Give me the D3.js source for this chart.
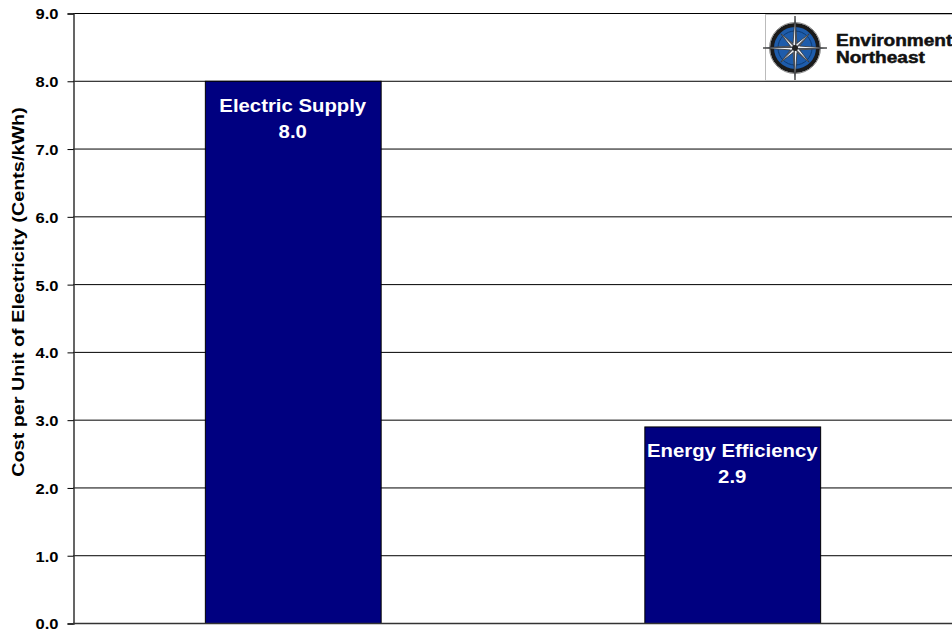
<!DOCTYPE html>
<html>
<head>
<meta charset="utf-8">
<script src="https://cdn.jsdelivr.net/npm/d3@7"></script>
<style>
body { margin: 0; background: #fff; }
svg text { font-family: Arial, "Liberation Sans", sans-serif; font-weight: bold; }
</style>
</head>
<body>
<svg id="chart" width="952" height="632"></svg>
<script>
let categories = ["Electric Supply", "Energy Efficiency"]
let values = [8.0, 2.9]
let yTicks = [0, 1, 2, 3, 4, 5, 6, 7, 8, 9]
let yLabel = "Cost per Unit of Electricity (Cents/kWh)"
let logoLines = ["Environment", "Northeast"]

let svg = d3.select("#chart")
let plotLeft = 73, plotRight = 952, plotTop = 13, plotBottom = 623

let xScale = d3.scaleBand().domain(categories).range([plotLeft, plotRight]).paddingInner(0.6).paddingOuter(0.3)
let yScale = d3.scaleLinear().domain([0, 9]).range([plotBottom, plotTop])

// gridlines
svg.append("g").selectAll("line")
  .data(yTicks.filter(d => d > 0))
  .enter().append("line")
  .attr("x1", plotLeft).attr("x2", plotRight)
  .attr("y1", d => yScale(d) + 0.5).attr("y2", d => yScale(d) + 0.5)
  .attr("stroke", "#000").attr("stroke-width", 1)

// y axis (labels drawn wide like the original)
let y_axis = d3.axisLeft(yScale).tickValues(yTicks).tickFormat("").tickSize(6)
let gy = svg.append("g").attr("transform", `translate(${plotLeft + 0.5},0.5)`).call(y_axis)
gy.select(".domain").attr("stroke", "#333").attr("stroke-width", 1.5)
gy.selectAll(".tick line").attr("stroke", "#000")
gy.selectAll(".tick").append("text")
  .attr("transform", "translate(-15,0) scale(1.1,1)")
  .attr("text-anchor", "end").attr("dy", "0.36em")
  .attr("font-size", 15).attr("fill", "#000")
  .text(d => d3.format(".1f")(d))

// bars
let bars = svg.append("g").selectAll(".bar")
  .data(categories)
  .enter().append("g").attr("class", "bar")

bars.append("rect")
  .attr("x", d => xScale(d) + 0.5)
  .attr("y", (d, i) => yScale(values[i]) + 0.5)
  .attr("width", xScale.bandwidth())
  .attr("height", (d, i) => yScale(0) - yScale(values[i]))
  .attr("fill", "#000080")
  .attr("stroke", "#000").attr("stroke-width", 1)

bars.append("text")
  .attr("transform", (d, i) => `translate(${xScale(d) + xScale.bandwidth() / 2},${yScale(values[i]) + 31}) scale(1.13,1)`)
  .attr("text-anchor", "middle").attr("fill", "#fff").attr("font-size", 18)
  .text(d => d)

bars.append("text")
  .attr("transform", (d, i) => `translate(${xScale(d) + xScale.bandwidth() / 2},${yScale(values[i]) + 57}) scale(1.13,1)`)
  .attr("text-anchor", "middle").attr("fill", "#fff").attr("font-size", 18)
  .text((d, i) => d3.format(".1f")(values[i]))

// x axis baseline
svg.append("line").attr("x1", plotLeft).attr("x2", plotRight)
  .attr("y1", plotBottom + 0.5).attr("y2", plotBottom + 0.5)
  .attr("stroke", "#333").attr("stroke-width", 1.5)

// y label
svg.append("text")
  .attr("transform", "translate(24,292) rotate(-90) scale(1.2,1)")
  .attr("text-anchor", "middle").attr("font-size", 16.5).attr("fill", "#000")
  .text(yLabel)

// logo
let logo = svg.append("g").attr("transform", "translate(765,14)")
logo.append("rect").attr("x", 0.5).attr("y", 0.5).attr("width", 200).attr("height", 66)
  .attr("fill", "#fff").attr("stroke", "#bbb").attr("stroke-width", 1)
let cx = 30, cy = 34
logo.append("circle").attr("cx", cx).attr("cy", cy).attr("r", 23).attr("fill", "#1e5cab").attr("stroke", "#1a1a1a").attr("stroke-width", 4)
logo.append("circle").attr("cx", cx).attr("cy", cy).attr("r", 25.5).attr("fill", "none").attr("stroke", "#888").attr("stroke-width", 1)
logo.append("circle").attr("cx", cx).attr("cy", cy).attr("r", 17).attr("fill", "none").attr("stroke", "#0d3a70").attr("stroke-width", 1)
let starPts = []
for (let k = 0; k < 16; k++) {
  let a = k * Math.PI / 8 - Math.PI / 2
  let r = k % 4 === 0 ? 32 : (k % 2 === 0 ? 20 : 5)
  starPts.push([cx + r * Math.cos(a), cy + r * Math.sin(a)])
}
logo.append("polygon").attr("points", starPts.map(p => p.join(",")).join(" "))
  .attr("fill", "#eef1f6").attr("stroke", "#333").attr("stroke-width", 0.8)
for (let k = 0; k < 8; k++) {
  let a = k * Math.PI / 4 - Math.PI / 2
  let r = k % 2 === 0 ? 32 : 20
  let a2 = a + Math.PI / 8
  logo.append("polygon")
    .attr("points", `${cx},${cy} ${cx + r * Math.cos(a)},${cy + r * Math.sin(a)} ${cx + 5 * Math.cos(a2)},${cy + 5 * Math.sin(a2)}`)
    .attr("fill", "#4a4f58")
}
logo.append("circle").attr("cx", cx).attr("cy", cy).attr("r", 3).attr("fill", "#222")
logo.selectAll(".lt").data(logoLines).enter().append("text")
  .attr("transform", (d, i) => `translate(71,${32 + i * 17}) scale(1.19,1)`)
  .attr("font-size", 16).attr("fill", "#111")
  .attr("stroke", "#111").attr("stroke-width", 0.5)
  .text(d => d)
</script>
</body>
</html>
